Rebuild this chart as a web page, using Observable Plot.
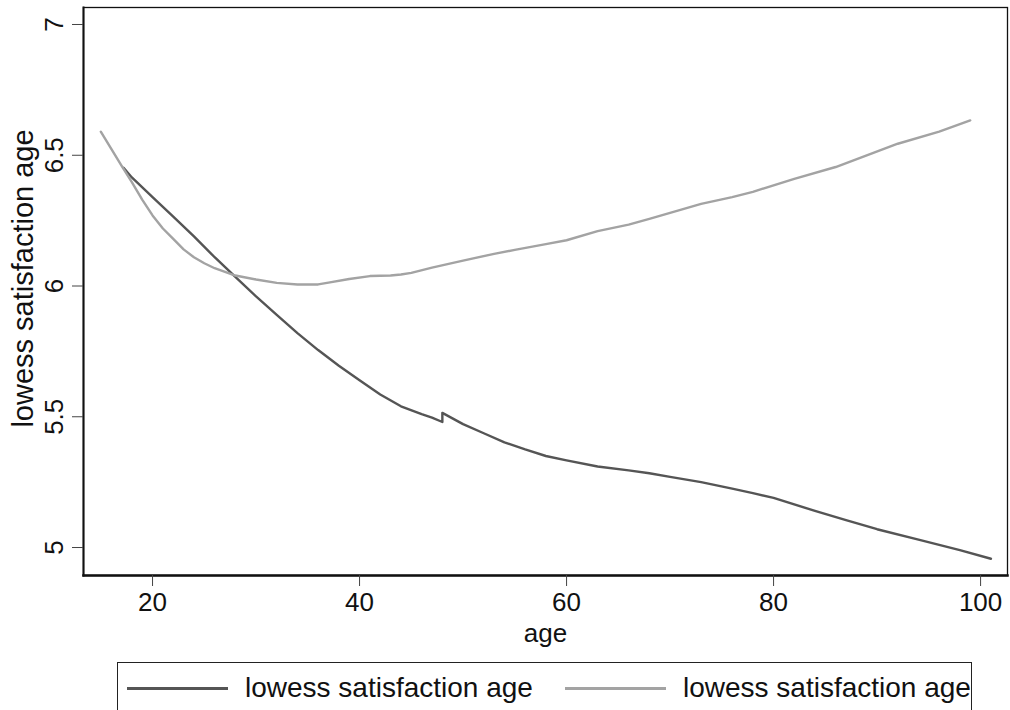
<!DOCTYPE html>
<html>
<head>
<meta charset="utf-8">
<script src="https://cdn.jsdelivr.net/npm/d3@7"></script>
<script src="https://cdn.jsdelivr.net/npm/@observablehq/plot@0.6"></script>
<style>
  html, body { margin: 0; padding: 0; background: #fff; overflow: hidden; }
  body { width: 1010px; height: 710px; position: relative; font-family: "Liberation Sans", Arial, sans-serif; }
  #chart { position: absolute; left: 0; top: 0; }
  #legend { position: absolute; left: 117px; top: 662px; width: 855px; height: 70px; border: 1.3px solid #222; box-sizing: border-box; }
  .item { position: absolute; top: 0; height: 50px; display: flex; align-items: center; }
  .swatch { width: 101px; height: 0; border-top: 3px solid; margin-right: 17px; }
  .lab { font-size: 28px; color: #111; white-space: nowrap; }
</style>
</head>
<body>
<div id="chart"></div>
<div id="legend"></div>
<script>
// series 1 (dark): lowess satisfaction age
const darkAge = [17.2, 18, 20, 22, 24, 26, 28, 30, 32, 34, 36, 38, 40, 42, 44, 46, 47, 48, 48, 50, 52, 54, 56, 58, 60, 63, 66, 68, 70, 73, 76, 78, 80, 84, 87, 90, 94, 98, 101];
const darkVal = [6.452, 6.415, 6.34, 6.265, 6.19, 6.11, 6.035, 5.96, 5.89, 5.82, 5.755, 5.695, 5.64, 5.585, 5.54, 5.51, 5.497, 5.48, 5.515, 5.472, 5.437, 5.402, 5.375, 5.35, 5.333, 5.31, 5.295, 5.284, 5.27, 5.25, 5.225, 5.208, 5.19, 5.14, 5.105, 5.07, 5.03, 4.99, 4.957];
// series 2 (light): lowess satisfaction age
const lightAge = [15, 16, 17, 18, 19, 20, 21, 22, 23, 24, 25, 26, 28, 30, 32, 34, 36, 37, 39, 41, 43, 44, 45, 47, 50, 53, 55, 58, 60, 63, 66, 68, 70, 73, 76, 78, 82, 86, 89, 92, 96, 99];
const lightVal = [6.59, 6.525, 6.46, 6.397, 6.33, 6.27, 6.22, 6.18, 6.14, 6.11, 6.087, 6.068, 6.04, 6.025, 6.012, 6.006, 6.006, 6.013, 6.027, 6.038, 6.04, 6.044, 6.05, 6.07, 6.097, 6.123, 6.138, 6.16, 6.175, 6.21, 6.235, 6.257, 6.28, 6.314, 6.34, 6.36, 6.41, 6.455, 6.5, 6.544, 6.59, 6.633];
const seriesNames = ["lowess satisfaction age", "lowess satisfaction age"];
const seriesColors = ["#555555", "#a3a3a3"];
const xTicks = [20, 40, 60, 80, 100];
const yTicks = [5, 5.5, 6, 6.5, 7];

const dark = darkAge.map((a, i) => ({age: a, v: darkVal[i]}));
const light = lightAge.map((a, i) => ({age: a, v: lightVal[i]}));

const plot = Plot.plot({
  width: 1010,
  height: 650,
  marginLeft: 83,
  marginRight: 3,
  marginTop: 7,
  marginBottom: 75,
  style: {fontFamily: "Liberation Sans, Arial, sans-serif", background: "#fff", color: "#111", overflow: "visible"},
  x: {domain: [13.33, 102.6]},
  y: {domain: [4.893, 7.065]},
  marks: [
    Plot.frame({stroke: "#111", strokeWidth: 1.3}),
    Plot.frame({anchor: "left", stroke: "#111", strokeWidth: 2}),
    Plot.frame({anchor: "bottom", stroke: "#111", strokeWidth: 2.5}),
    Plot.axisX({ticks: xTicks, tickSize: 11, tickPadding: 6, fontSize: 26, stroke: "#444",
      label: "age", labelAnchor: "center", labelArrow: "none", labelOffset: 66}),
    Plot.axisY({ticks: yTicks, tickFormat: d => String(d), tickSize: 11, tickPadding: 10, tickRotate: -90, fontSize: 26, stroke: "#444",
      label: "lowess satisfaction age", labelAnchor: "center", labelArrow: "none", labelOffset: 71}),
    Plot.line(dark, {x: "age", y: "v", stroke: seriesColors[0], strokeWidth: 2.4}),
    Plot.line(light, {x: "age", y: "v", stroke: seriesColors[1], strokeWidth: 2.4})
  ]
});
plot.querySelectorAll('[aria-label="x-axis label"] text').forEach(t => t.setAttribute("font-size", 26));
plot.querySelectorAll('[aria-label="y-axis label"] text').forEach(t => { t.setAttribute("font-size", 29); t.setAttribute("dx", 13); });
document.getElementById("chart").appendChild(plot);

const legend = document.getElementById("legend");
const lefts = [9, 447];
seriesNames.forEach((name, i) => {
  const it = document.createElement("div");
  it.className = "item";
  it.style.left = lefts[i] + "px";
  const sw = document.createElement("div");
  sw.className = "swatch";
  sw.style.borderColor = seriesColors[i];
  const lb = document.createElement("span");
  lb.className = "lab";
  lb.textContent = name;
  it.appendChild(sw); it.appendChild(lb);
  legend.appendChild(it);
});
</script>
</body>
</html>
